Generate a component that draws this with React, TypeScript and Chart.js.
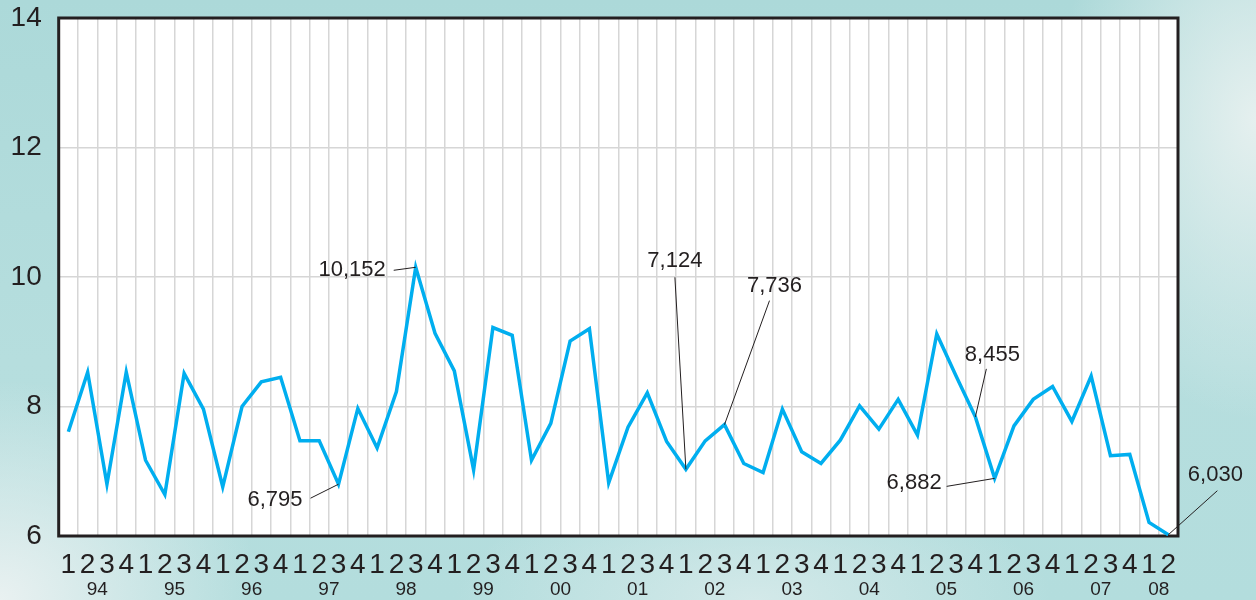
import React, { useEffect, useRef } from "react";
import { Chart, registerables } from "chart.js";

Chart.register(...registerables);

// ---- data ----
const years = ["94", "95", "96", "97", "98", "99", "00", "01", "02", "03", "04", "05", "06", "07", "08"];
const quartersPerYear = [4, 4, 4, 4, 4, 4, 4, 4, 4, 4, 4, 4, 4, 4, 2];
const values = [
  7.61, 8.53, 6.8, 8.53,
  7.17, 6.64, 8.51, 7.96,
  6.76, 8.0, 8.38, 8.45,
  7.47, 7.47, 6.8, 7.97,
  7.36, 8.23, 10.15, 9.13,
  8.55, 7.02, 9.22, 9.1,
  7.17, 7.74, 9.01, 9.2,
  6.82, 7.68, 8.21, 7.46,
  7.03, 7.47, 7.72, 7.12,
  6.98, 7.96, 7.3, 7.12,
  7.48, 8.01, 7.65, 8.11,
  7.56, 9.12, 8.47, 7.84,
  6.89, 7.7, 8.11, 8.31,
  7.77, 8.47, 7.24, 7.26,
  6.21, 6.02,
];
const yTicks = [6, 8, 10, 12, 14];
const calloutIndex = [18, 14, 32, 34, 47, 48, 57];
const calloutText = ["10,152", "6,795", "7,124", "7,736", "8,455", "6,882", "6,030"];

// ---- layout of callouts (pixel offsets from the point) ----
const calloutLayout = [
  { align: "right", tx: -30, ty: 3, lx: -22, ly: 3 },
  { align: "right", tx: -36, ty: 16, lx: -28, ly: 14 },
  { align: "center", tx: -11, ty: -208, lx: -11, ly: -192 },
  { align: "center", tx: 50, ty: -139, lx: 45, ly: -124 },
  { align: "center", tx: 17, ty: -62, lx: 11, ly: -48 },
  { align: "right", tx: -53, ty: 5, lx: -48, ly: 8 },
  { align: "center", tx: 47, ty: -60, lx: 49, ly: -44 },
];

const quarterLabels: string[] = [];
const yearCenters: number[] = [];
{
  let idx = 0;
  quartersPerYear.forEach((n) => {
    for (let q = 1; q <= n; q++) quarterLabels.push(String(q));
    yearCenters.push(idx + (n - 1) / 2);
    idx += n;
  });
}

const INK = "#231f20";
const FONT = "'Liberation Sans', Arial, Helvetica, sans-serif";

const framePlugin = {
  id: "frame",
  beforeDraw(chart: any) {
    const { ctx, chartArea: a } = chart;
    ctx.save();
    ctx.fillStyle = "#ffffff";
    ctx.fillRect(a.left, a.top, a.right - a.left, a.bottom - a.top);
    ctx.restore();
  },
  beforeDatasetsDraw(chart: any) {
    const { ctx, chartArea: a } = chart;
    ctx.save();
    ctx.strokeStyle = INK;
    ctx.lineWidth = 3;
    ctx.strokeRect(a.left, a.top, a.right - a.left, a.bottom - a.top);
    ctx.restore();
  },
  afterDatasetsDraw(chart: any) {
    const { ctx } = chart;
    const xs = chart.scales.x;
    const ys = chart.scales.y;
    ctx.save();
    ctx.font = `22px ${FONT}`;
    ctx.fillStyle = INK;
    ctx.strokeStyle = INK;
    ctx.lineWidth = 1;
    ctx.textBaseline = "middle";
    calloutIndex.forEach((i, k) => {
      const L = calloutLayout[k];
      const px = xs.getPixelForValue(i);
      const py = ys.getPixelForValue(values[i]);
      ctx.beginPath();
      ctx.moveTo(px + L.lx, py + L.ly);
      ctx.lineTo(px, py);
      ctx.stroke();
      ctx.textAlign = L.align as CanvasTextAlign;
      ctx.fillText(calloutText[k], px + L.tx, py + L.ty);
    });
    ctx.restore();
  },
};

export default function App() {
  const ref = useRef<HTMLCanvasElement>(null);

  useEffect(() => {
    document.body.style.margin = "0";
    const chart = new Chart(ref.current as HTMLCanvasElement, {
      type: "line",
      data: {
        labels: quarterLabels,
        datasets: [
          {
            data: values,
            borderColor: "#00aeef",
            borderWidth: 3.5,
            pointRadius: 0,
            tension: 0,
            fill: false,
            xAxisID: "x",
            yAxisID: "y",
          },
        ],
      },
      options: {
        animation: false,
        responsive: true,
        maintainAspectRatio: false,
        layout: { padding: { top: 18, right: 78, left: 0, bottom: 0 } },
        plugins: { legend: { display: false }, tooltip: { enabled: false } },
        scales: {
          x: {
            type: "category",
            position: "bottom",
            weight: 0,
            offset: true,
            grid: { offset: true, color: "#d6d6d6", lineWidth: 1.5, drawTicks: false },
            border: { display: false },
            ticks: {
              autoSkip: false,
              maxRotation: 0,
              minRotation: 0,
              padding: 12,
              color: INK,
              font: { size: 28, family: FONT },
            },
            afterFit: (s: any) => {
              s.height = 44;
              s.paddingLeft = 0;
              s.paddingRight = 0;
            },
          },
          xYear: {
            type: "linear",
            position: "bottom",
            weight: 1,
            min: -0.5,
            max: quarterLabels.length - 0.5,
            grid: { display: false, drawTicks: false },
            border: { display: false },
            afterBuildTicks: (s: any) => {
              s.ticks = yearCenters.map((v) => ({ value: v }));
            },
            ticks: {
              autoSkip: false,
              maxRotation: 0,
              minRotation: 0,
              padding: 0,
              color: INK,
              font: { size: 19, family: FONT, lineHeight: 1 },
              callback: (v: any) => {
                const k = yearCenters.indexOf(Number(v));
                return k >= 0 ? years[k] : "";
              },
            },
            afterFit: (s: any) => {
              s.height = 20;
              s.paddingLeft = 0;
              s.paddingRight = 0;
            },
          },
          y: {
            type: "linear",
            min: yTicks[0],
            max: yTicks[yTicks.length - 1],
            afterBuildTicks: (s: any) => {
              s.ticks = yTicks.map((v) => ({ value: v }));
            },
            grid: { color: "#d6d6d6", lineWidth: 1.5, drawTicks: false },
            border: { display: false },
            ticks: {
              padding: 17,
              color: INK,
              font: { size: 28, family: FONT },
            },
            afterFit: (s: any) => {
              s.width = 58.7;
              s.paddingTop = 0;
              s.paddingBottom = 0;
            },
          },
        },
      },
      plugins: [framePlugin],
    });
    return () => chart.destroy();
  }, []);

  return (
    <div
      style={{
        width: 1256,
        height: 600,
        position: "relative",
        background:
          "radial-gradient(ellipse 260px 220px at 0% 100%, rgba(236,242,242,0.95), rgba(236,242,242,0) 100%)," +
          "radial-gradient(ellipse 200px 300px at 100% 20%, rgba(232,241,240,0.95), rgba(232,241,240,0) 100%)," +
          "radial-gradient(ellipse 300px 120px at 60% 100%, rgba(225,238,238,0.7), rgba(225,238,238,0) 100%)," +
          "linear-gradient(180deg, #acd9d9 0%, #b6dede 60%, #b3dddd 100%)",
      }}
    >
      <canvas ref={ref} />
    </div>
  );
}
